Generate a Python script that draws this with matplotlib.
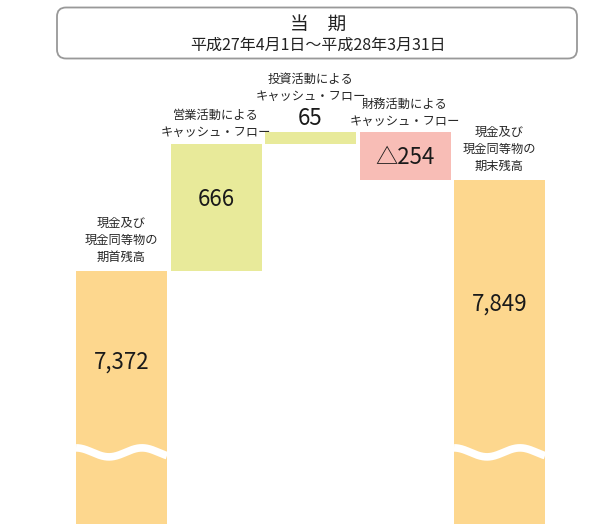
import numpy as np
import matplotlib
matplotlib.use("Agg")
import matplotlib.pyplot as plt
from matplotlib.patches import FancyBboxPatch

plt.rcParams["font.family"] = ["Noto Sans CJK JP", "DejaVu Sans"]

# data
labels = [
    "現金及び\n現金同等物の\n期首残高",
    "営業活動による\nキャッシュ・フロー",
    "投資活動による\nキャッシュ・フロー",
    "財務活動による\nキャッシュ・フロー",
    "現金及び\n現金同等物の\n期末残高",
]
values = [7372, 666, 65, -254, 7849]
value_texts = ["7,372", "666", "65", "△254", "7,849"]
is_total = [True, False, False, False, True]
title = "当　期"
period = "平成27年4月1日～平成28年3月31日"

colors = ["#fdd78e", "#e8ea9a", "#e8ea9a", "#f8bdb6", "#fdd78e"]

# layout (pixel based, figure is 602x524)
W, H = 602, 524
px_per_unit = 0.19
y_lo, y_hi = 6040, 8798
break_val = 6417
step_px = 94.5
x_lo = -121.5 / step_px
x_hi = x_lo + W / step_px

fig = plt.figure(figsize=(W / 100, H / 100), dpi=100)
ax = fig.add_axes([0, 0, 1, 1])
ax.set_xlim(x_lo, x_hi)
ax.set_ylim(y_lo, y_hi)
ax.axis("off")

# waterfall bottoms / tops
bottoms, tops = [], []
running = 0
for v, tot in zip(values, is_total):
    if tot:
        bottoms.append(y_lo)
        tops.append(v)
        running = v
    else:
        lo, hi = sorted([running, running + v])
        bottoms.append(lo)
        tops.append(hi)
        running += v

x = np.arange(len(values))
bw = 91 / step_px
ax.bar(x, np.array(tops) - np.array(bottoms), bottom=bottoms, width=bw,
       color=colors, linewidth=0)

# wavy break on the total bars
for i, tot in enumerate(is_total):
    if not tot:
        continue
    xs = np.linspace(i - bw / 2, i + bw / 2, 200)
    ph = (xs - (i - bw / 2)) * step_px / 66.0
    ys = break_val + (4.5 / px_per_unit) * np.cos(2 * np.pi * ph)
    ax.plot(xs, ys, color="white", lw=5.5, solid_capstyle="butt")

# category labels (offset above bar top, in points)
label_off = [22, 14.5, 31.5, 13.5, 22.5]
for i, lab in enumerate(labels):
    ax.annotate(lab, (i, tops[i]), xytext=(0, label_off[i]),
                textcoords="offset points", ha="center", va="center",
                fontsize=8.8, linespacing=1.42, color="#262626")

# value labels
val_off = [-66, -39.5, 10, -18, -89.5]
for i, t in enumerate(value_texts):
    ax.annotate(t, (i, tops[i]), xytext=(0, val_off[i]),
                textcoords="offset points", ha="center", va="center",
                fontsize=16, color="#1a1a1a")

# title box
ov = fig.add_axes([0, 0, 1, 1], facecolor="none")
ov.set_xlim(0, W)
ov.set_ylim(H, 0)
ov.axis("off")
ov.add_patch(FancyBboxPatch((57, 7.5), 520, 51,
                            boxstyle="round,pad=0,rounding_size=9",
                            facecolor="white", edgecolor="#999999", lw=1.3))
ov.text(318, 24, title, ha="center", va="center", fontsize=13.5, color="#222222")
ov.text(318, 45, period, ha="center", va="center", fontsize=11.5, color="#222222")

fig.savefig("out.png", dpi=100)
